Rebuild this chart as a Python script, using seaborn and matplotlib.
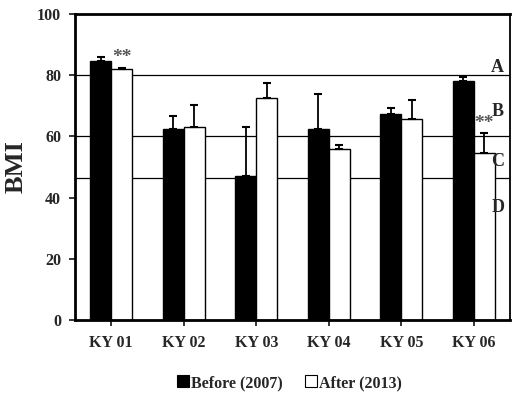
import numpy as np
import pandas as pd
import matplotlib
matplotlib.use("Agg")
from matplotlib import pyplot as plt
from matplotlib.lines import Line2D
import seaborn as sns

sites = ["KY 01", "KY 02", "KY 03", "KY 04", "KY 05", "KY 06"]
before = [84.7, 62.3, 47.2, 62.3, 67.3, 78.2]
before_sd = [1.1, 4.4, 15.8, 11.6, 1.9, 1.3]
after = [81.9, 63.0, 72.6, 56.0, 65.7, 54.5]
after_sd = [0.6, 7.3, 4.7, 1.2, 6.2, 6.5]
periods = ["Before (2007)", "After (2013)"]
class_limits = [80, 60, 46.5]
class_labels = ["A", "B", "C", "D"]
class_label_y = [82.5, 68, 51.7, 36.6]
stars_idx = [0, 5]

sns.set_style("white")
plt.rcParams["font.family"] = ["Liberation Serif", "DejaVu Serif"]
plt.rcParams["font.weight"] = "bold"

df = pd.DataFrame({
    "site": sites * 2,
    "BMI": before + after,
    "period": [periods[0]] * 6 + [periods[1]] * 6,
})

fig = plt.figure(figsize=(5.18, 3.99), dpi=100)
ax = fig.add_axes([0.1448, 0.198, 0.8398, 0.767])

for y in class_limits:
    ax.axhline(y, color="black", lw=0.9, zorder=0)

width = 0.58
sns.barplot(data=df, x="site", y="BMI", hue="period", palette=["black", "white"],
            edgecolor="black", linewidth=1, width=width, gap=0, errorbar=None,
            legend=False, ax=ax, zorder=2)

xs = np.arange(len(sites))
off = width / 4
for vals, sds, dx in [(before, before_sd, -off), (after, after_sd, off)]:
    ax.errorbar(xs + dx, vals, yerr=[np.zeros(len(sds)), sds], fmt="none",
                ecolor="black", elinewidth=1.3, capsize=3, capthick=1.5, zorder=3)

# significance marks over the "after" bars
for i in stars_idx:
    top = after[i] + after_sd[i]
    ax.text(xs[i] + off, top + 3.2, "**", ha="center", va="center",
            fontsize=14, color="#555555")

for lab, y in zip(class_labels, class_label_y):
    ax.text(5.33, y, lab, ha="center", va="center", fontsize=13, fontweight="bold")

ax.set_xlim(-0.5, 5.5)
ax.set_ylim(0, 100)
ax.set_yticks([0, 20, 40, 60, 80, 100])
ax.set_xlabel("")
ax.set_ylabel("BMI", fontsize=19, fontweight="bold", labelpad=7)
ax.tick_params(axis="both", labelsize=11.5, direction="out", length=4, width=1.3,
               left=True, bottom=True)
ax.tick_params(axis="y", pad=6)
ax.tick_params(axis="x", pad=7)
for lbl in ax.get_xticklabels() + ax.get_yticklabels():
    lbl.set_fontweight("bold")
for side in ["left", "bottom", "top"]:
    ax.spines[side].set_linewidth(2)
ax.spines["right"].set_linewidth(1.3)
for s in ax.spines.values():
    s.set_color("black")

handles = [Line2D([], [], marker="s", ls="", markersize=8, markerfacecolor=c,
                  markeredgecolor="black", markeredgewidth=0.8) for c in ["black", "white"]]
fig.legend(handles, periods, loc="center", bbox_to_anchor=(0.559, 0.04), ncol=2,
           frameon=False, fontsize=11.5, handletextpad=0.15, columnspacing=1.4,
           handlelength=0.7)

fig.savefig("out.png", dpi=100)
